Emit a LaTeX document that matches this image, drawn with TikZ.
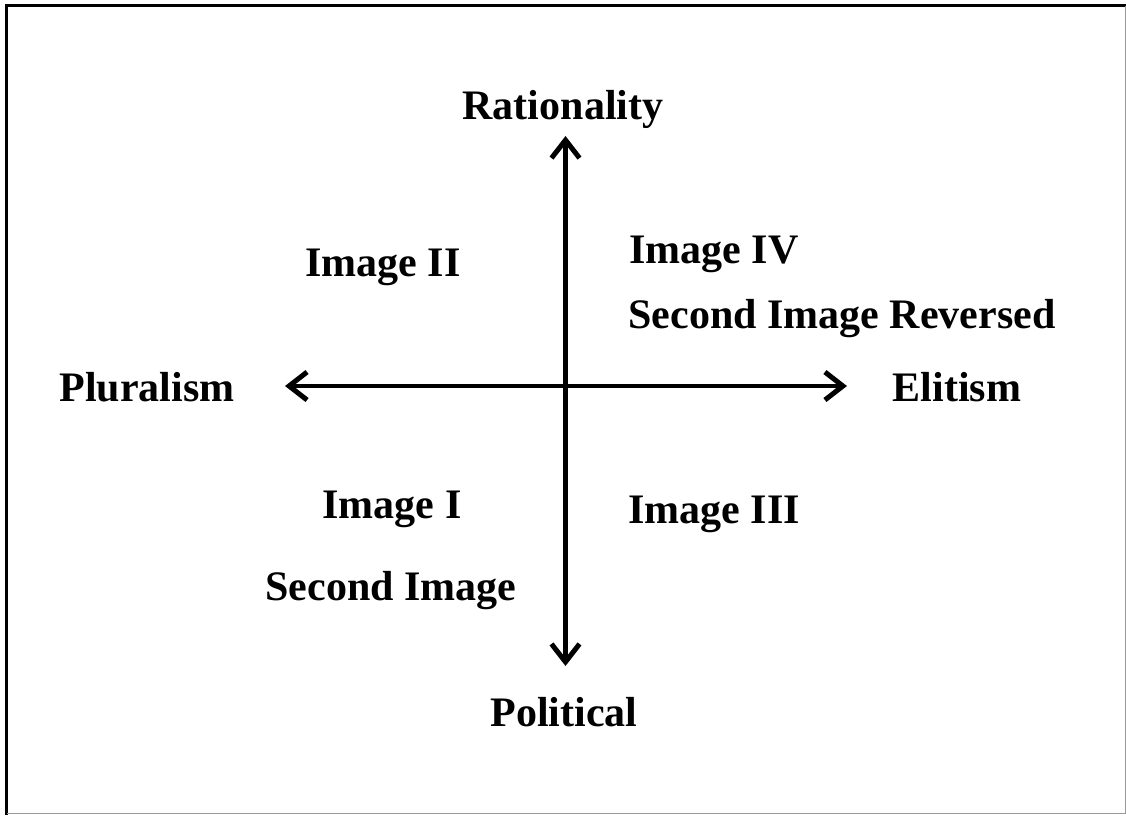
\documentclass[tikz,border=0pt]{standalone}
\usepackage{fontspec}
\setmainfont{Liberation Serif}
\usetikzlibrary{arrows.meta}
\begin{document}
\begin{tikzpicture}[x=1pt,y=-1pt,
  lbl/.style={font=\fontsize{42}{48}\selectfont\bfseries, inner sep=0pt, text height=27.5pt, text depth=0pt, anchor=center},
  tipstyle/.style={Straight Barb[length=18pt,width=28pt,line width=5pt]},
  axis/.style={line width=4.5pt, {Straight Barb[length=18pt,width=28pt,line width=5pt]}-{Straight Barb[length=18pt,width=28pt,line width=5pt]}}]
\useasboundingbox (0,0) rectangle (1126,815);
\coordinate (tl) at (6.5,5.5);
\coordinate (tr) at (1125,5.5);
\coordinate (bl) at (6.5,813);
\coordinate (br) at (1125,813);
\draw[line width=3pt, line cap=rect] (bl) -- (tl) -- (tr);
\draw[line width=1pt, black!40] (tr) -- (br) -- (bl);
\coordinate (top) at (565.5,136);
\coordinate (bot) at (565.5,666);
\coordinate (lft) at (285,386);
\coordinate (rgt) at (847,386);
\draw[axis] (top) -- (bot);
\draw[axis] (lft) -- (rgt);
\node[lbl] (rat) at (563,106) {Rationality};
\node[lbl] (pol) at (564,713) {Political};
\node[lbl] (plu) at (147,388) {Pluralism};
\node[lbl] (eli) at (957,388) {Elitism};
\node[lbl] (i2) at (383,263) {Image II};
\node[lbl] (i4) at (714,250) {Image IV};
\node[lbl] (sir) at (842,315) {Second Image Reversed};
\node[lbl] (i1) at (392,505) {Image I};
\node[lbl] (si) at (391,587) {Second Image};
\node[lbl] (i3) at (714,510) {Image III};
\end{tikzpicture}
\end{document}
